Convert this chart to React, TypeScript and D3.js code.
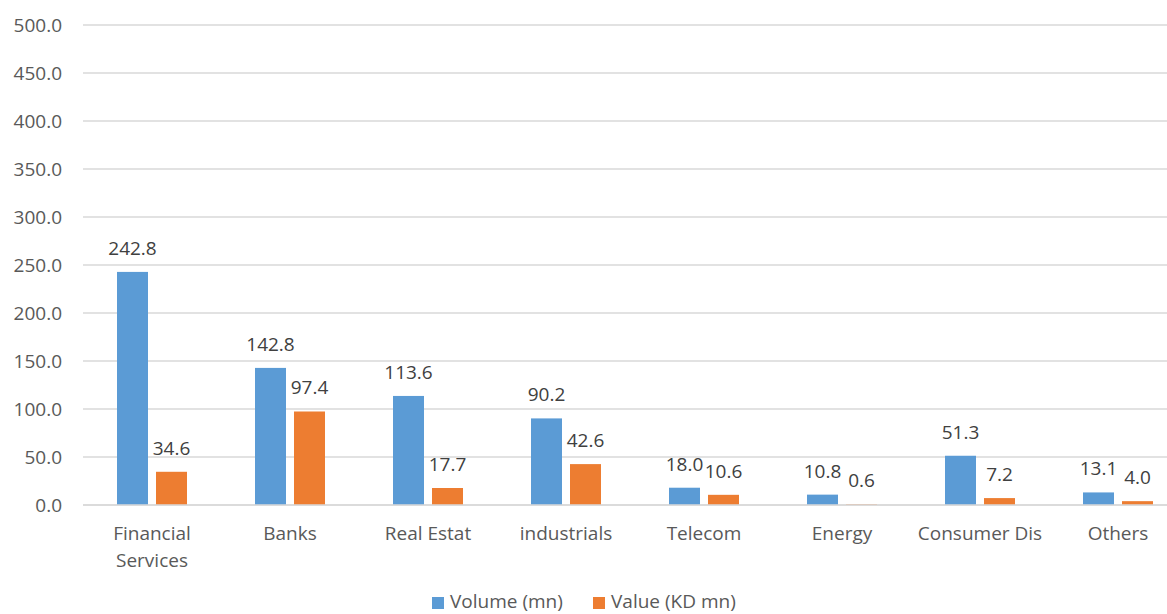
import React from "react";
import * as d3 from "d3";

const categories = [
  ["Financial", "Services"],
  ["Banks"],
  ["Real Estat"],
  ["industrials"],
  ["Telecom"],
  ["Energy"],
  ["Consumer Dis"],
  ["Others"],
];
const volume = [242.8, 142.8, 113.6, 90.2, 18.0, 10.8, 51.3, 13.1];
const valueKD = [34.6, 97.4, 17.7, 42.6, 10.6, 0.6, 7.2, 4.0];
const yTicks = [0, 50, 100, 150, 200, 250, 300, 350, 400, 450, 500];
const seriesNames = ["Volume (mn)", "Value (KD mn)"];
const colors = ["#5B9BD5", "#ED7D31"];

const W = 1167;
const H = 614;
const left = 83;
const right = 1187;
const top = 25;
const bottom = 505;
const font = "'Open Sans', 'Noto Sans', sans-serif";
const fs = 19;

export default function App() {
  const x = d3
    .scaleBand<number>()
    .domain(categories.map((_, i) => i))
    .range([left, right]);
  const y = d3.scaleLinear().domain([0, 500]).range([bottom, top]);
  const barW = 31;
  const offset = 19.5;
  const series = [volume, valueKD];
  return (
    <svg
      width={W}
      height={H}
      style={{ position: "absolute", left: 0, top: 0, background: "#fff" }}
      fontFamily={font}
    >
      {yTicks.map((t) => (
        <g key={t}>
          <line
            x1={left}
            x2={W}
            y1={y(t)}
            y2={y(t)}
            stroke="#D9D9D9"
            strokeWidth={1.3}
          />
          <text
            x={62}
            y={y(t)}
            dy="0.35em"
            textAnchor="end"
            fontSize={fs}
            fill="#595959"
          >
            {d3.format(".1f")(t)}
          </text>
        </g>
      ))}
      {categories.map((c, i) => {
        const cx = (x(i) as number) + x.bandwidth() / 2;
        return (
          <g key={i}>
            {series.map((s, k) => {
              const bx = cx + (k === 0 ? -offset : offset);
              return (
                <g key={k}>
                  <rect
                    x={bx - barW / 2}
                    y={y(s[i])}
                    width={barW}
                    height={y(0) - y(s[i])}
                    fill={colors[k]}
                  />
                  <text
                    x={bx}
                    y={y(s[i]) - 17}
                    textAnchor="middle"
                    fontSize={fs}
                    fill="#404040"
                  >
                    {d3.format(".1f")(s[i])}
                  </text>
                </g>
              );
            })}
            {c.map((line, j) => (
              <text
                key={j}
                x={cx}
                y={540 + j * 27}
                textAnchor="middle"
                fontSize={fs}
                fill="#595959"
              >
                {line}
              </text>
            ))}
          </g>
        );
      })}
      <line x1={left} x2={W} y1={y(0)} y2={y(0)} stroke="#D9D9D9" strokeWidth={1.3} />
      <g>
        <rect x={432} y={597} width={12} height={12} fill={colors[0]} />
        <text x={450} y={607.5} fontSize={fs} fill="#595959">
          {seriesNames[0]}
        </text>
        <rect x={593} y={597} width={12} height={12} fill={colors[1]} />
        <text x={611} y={607.5} fontSize={fs} fill="#595959">
          {seriesNames[1]}
        </text>
      </g>
    </svg>
  );
}
